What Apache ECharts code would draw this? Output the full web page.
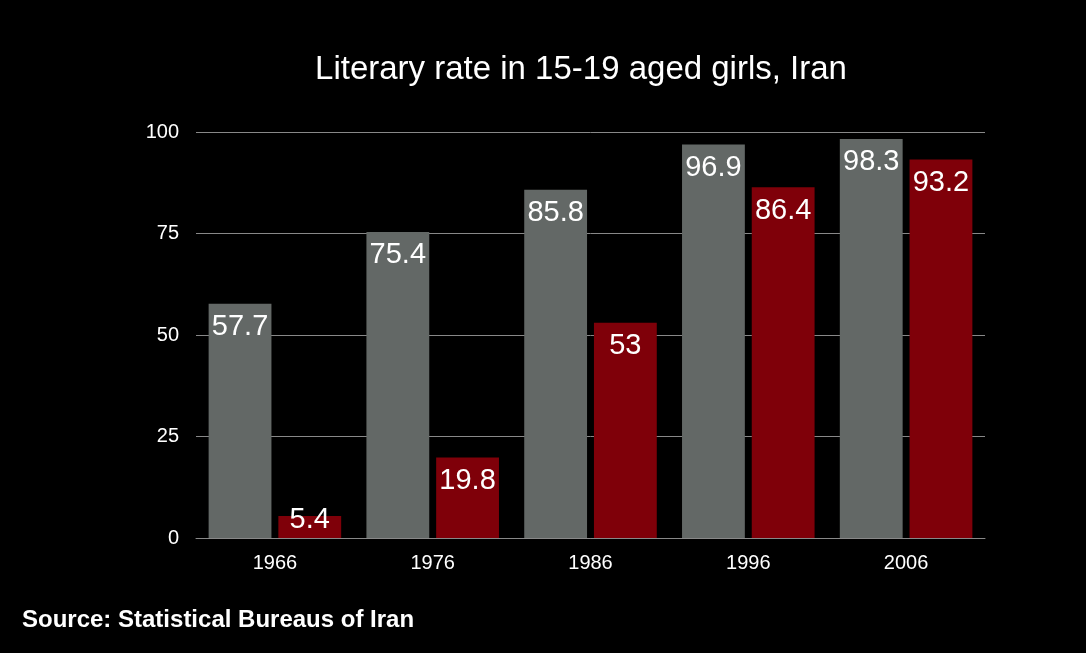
<!DOCTYPE html>
<html>
<head>
<meta charset="utf-8">
<script src="https://cdn.jsdelivr.net/npm/echarts@6/dist/echarts.min.js"></script>
<style>html,body{margin:0;padding:0;background:#000;}#c{width:1086px;height:653px;}</style>
</head>
<body>
<div id="c"></div>
<script>
var categories = ['1966', '1976', '1986', '1996', '2006'];
var seriesA = [57.7, 75.4, 85.8, 96.9, 98.3];
var seriesB = [5.4, 19.8, 53, 86.4, 93.2];
var yTicks = [0, 25, 50, 75, 100];

var FONT = 'Liberation Sans, Arial, sans-serif';
var chart = echarts.init(document.getElementById('c'));
var labelCfg = {show: true, position: 'insideTop', distance: 9, color: '#fff', fontSize: 29, fontFamily: FONT};
function items(arr) {
  return arr.map(function (v) {
    if (v < 10) {
      return {value: v, label: {position: 'insideBottom', distance: 4}};
    }
    return v;
  });
}
chart.setOption({
  backgroundColor: '#000',
  title: [{
    text: 'Literary rate in 15-19 aged girls, Iran',
    left: 576, top: 48, textAlign: 'center',
    textStyle: {color: '#fff', fontSize: 33, fontWeight: 'normal', fontFamily: FONT}
  }, {
    text: 'Source: Statistical Bureaus of Iran',
    left: 17, top: 603,
    textStyle: {color: '#fff', fontSize: 24, fontWeight: 'bold', fontFamily: FONT}
  }],
  grid: {left: 196, right: 101, top: 132, bottom: 115},
  xAxis: {
    type: 'category', data: categories,
    axisLine: {lineStyle: {color: '#888', width: 1}},
    axisTick: {show: false},
    axisLabel: {color: '#fff', fontSize: 20, margin: 15, fontFamily: FONT}
  },
  yAxis: {
    type: 'value', min: yTicks[0], max: yTicks[yTicks.length - 1], interval: 25,
    axisLine: {show: false}, axisTick: {show: false},
    splitLine: {lineStyle: {color: '#888', width: 1}},
    axisLabel: {color: '#fff', fontSize: 20, margin: 17, fontFamily: FONT}
  },
  series: [{
    type: 'bar', data: items(seriesA), barGap: '11%', barCategoryGap: '16%',
    itemStyle: {color: '#636866'}, label: labelCfg
  }, {
    type: 'bar', data: items(seriesB),
    itemStyle: {color: '#7f0009'}, label: labelCfg
  }]
});
</script>
</body>
</html>
